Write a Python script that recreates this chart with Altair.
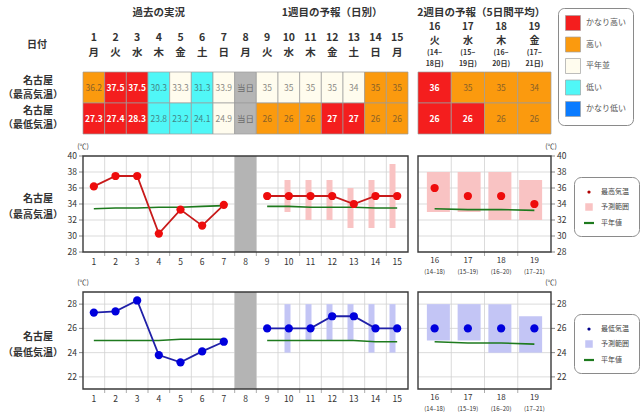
import altair as alt
import pandas as pd

FONT = "Noto Sans CJK JP"

# ---------------- data ----------------
CATS = ["かなり高い", "高い", "平年並", "低い", "かなり低い", "当日"]
CAT_COLORS = ["#f41e1e", "#fb9a0e", "#fffcee", "#50f7f7", "#0a7bff", "#b5b5b5"]
LEGEND_CATS = ["かなり高い", "高い", "平年並", "低い", "かなり低い"]
ROWS = ["最高気温", "最低気温"]

days_w1 = list(range(1, 16))
weekday_w1 = ["月", "火", "水", "木", "金", "土", "日", "月", "火", "水", "木", "金", "土", "日", "月"]
max_w1_text = ["36.2", "37.5", "37.5", "30.3", "33.3", "31.3", "33.9", "当日", "35", "35", "35", "35", "34", "35", "35"]
max_w1_cat = ["高い", "かなり高い", "かなり高い", "低い", "平年並", "低い", "平年並", "当日",
              "平年並", "平年並", "平年並", "平年並", "平年並", "高い", "高い"]
min_w1_text = ["27.3", "27.4", "28.3", "23.8", "23.2", "24.1", "24.9", "当日", "26", "26", "26", "27", "27", "26", "26"]
min_w1_cat = ["かなり高い", "かなり高い", "かなり高い", "低い", "低い", "低い", "平年並", "当日",
              "高い", "高い", "高い", "かなり高い", "かなり高い", "高い", "高い"]

days_w2 = [16, 17, 18, 19]
weekday_w2 = ["火", "水", "木", "金"]
period_top = ["(14~", "(15~", "(16~", "(17~"]
period_bottom = ["18日)", "19日)", "20日)", "21日)"]
period_axis = ["(14–18)", "(15–19)", "(16–20)", "(17–21)"]
max_w2_text = ["36", "35", "35", "34"]
max_w2_cat = ["かなり高い", "高い", "高い", "高い"]
min_w2_text = ["26", "26", "26", "26"]
min_w2_cat = ["かなり高い", "かなり高い", "高い", "高い"]

obs_days = [1, 2, 3, 4, 5, 6, 7]
max_obs = [36.2, 37.5, 37.5, 30.3, 33.3, 31.3, 33.9]
min_obs = [27.3, 27.4, 28.3, 23.8, 23.2, 24.1, 24.9]
max_obs_normal = [33.4, 33.5, 33.5, 33.6, 33.6, 33.7, 33.8]
min_obs_normal = [25.0, 25.0, 25.0, 25.0, 25.1, 25.1, 25.1]

fc_days = [9, 10, 11, 12, 13, 14, 15]
max_fc = [35, 35, 35, 35, 34, 35, 35]
max_fc_low = [None, 33, 32, 32, 31, 31, 31]
max_fc_high = [None, 37, 37, 37, 36, 37, 39]
max_fc_normal = [33.7, 33.7, 33.6, 33.6, 33.6, 33.5, 33.5]
min_fc = [26, 26, 26, 27, 27, 26, 26]
min_fc_low = [None, 24, 25, 25, 25, 24, 24]
min_fc_high = [None, 28, 28, 28, 28, 28, 28]
min_fc_normal = [25.0, 25.0, 25.0, 25.0, 25.0, 24.9, 24.9]

max_w2 = [36, 35, 35, 34]
max_w2_low = [33, 33, 32, 32]
max_w2_high = [38, 38, 38, 37]
max_w2_normal = [33.4, 33.3, 33.3, 33.2]
min_w2 = [26, 26, 26, 26]
min_w2_low = [25, 25, 24, 24]
min_w2_high = [28, 28, 28, 27]
min_w2_normal = [24.9, 24.8, 24.8, 24.7]

today_day = [8]
max_ticks = [28, 30, 32, 34, 36, 38, 40]
min_ticks = [22, 24, 26, 28]
max_grid = [30, 32, 34, 36, 38]
min_grid = [22, 24, 26, 28]
w1_bounds = [1.5, 2.5, 3.5, 4.5, 5.5, 6.5, 7.5, 8.5, 9.5, 10.5, 11.5, 12.5, 13.5, 14.5]
w2_bounds = [16.5, 17.5, 18.5]

MAX_LEGEND = ["最高気温", "予測範囲", "平年値"]
MIN_LEGEND = ["最低気温", "予測範囲", "平年値"]

# ---------------- styles ----------------
GRID = "#d2d2d2"
FRAME = "#3a3a3a"
TXT = "#333333"
RED_PT = "#ee0c0c"
RED_LN = "#c81a1a"
BLUE_PT = "#0000dd"
BLUE_LN = "#2020a8"
PINK = "#f9c3c3"
LAV = "#c3c5f5"
GREEN = "#1e7a1e"
LINE_PATH = "M-1,-0.22L1,-0.22L1,0.22L-1,0.22Z"
DOT_PATH = "M-0.32,0A0.32,0.32 0 1,0 0.32,0A0.32,0.32 0 1,0 -0.32,0Z"
SQ_PATH = "M-0.75,-0.75L0.75,-0.75L0.75,0.75L-0.75,0.75Z"

SX1 = alt.Scale(domain=[0.5, 15.5], range=[83, 408], nice=False, zero=False)
SX2 = alt.Scale(domain=[15.5, 19.5], range=[418, 551], nice=False, zero=False)
SY_MAX = alt.Scale(domain=[28, 40], range=[252, 156], nice=False, zero=False)
SY_MIN = alt.Scale(domain=[21, 29], range=[389, 292], nice=False, zero=False)
SY_TBL = alt.Scale(domain=ROWS, range=[72, 134], paddingInner=0, paddingOuter=0)
CAT_SCALE = alt.Scale(domain=CATS, range=CAT_COLORS)

L = []


def label(s, x, y, size=10, weight="bold", color=TXT, align="center"):
    return alt.Chart(pd.DataFrame({"t": [s]})).mark_text(
        fontSize=size, fontWeight=weight, color=color, align=align, font=FONT
    ).encode(x=alt.value(x), y=alt.value(y), text="t:N")


# ---------------- tables ----------------
def table_layers(days, max_text, max_cat, min_text, min_cat, sx, legend):
    df = pd.DataFrame({
        "d": days * 2,
        "row": [ROWS[0]] * len(days) + [ROWS[1]] * len(days),
        "txt": max_text + min_text,
        "cat": max_cat + min_cat,
    })
    out = []
    out.append(
        alt.Chart(df).transform_calculate(xa="datum.d - 0.5", xb="datum.d + 0.5")
        .mark_rect(stroke="#9c9c9c", strokeWidth=0.7)
        .encode(
            x=alt.X("xa:Q", scale=sx, axis=None), x2="xb:Q",
            y=alt.Y("row:N", scale=SY_TBL, axis=None),
            color=alt.Color("cat:N", scale=CAT_SCALE, legend=legend),
        )
    )
    out.append(
        alt.Chart(df).transform_filter(alt.datum.cat == "かなり高い")
        .mark_text(fontSize=8.5, fontWeight="bold", color="white", font=FONT)
        .encode(x=alt.X("d:Q", scale=sx, axis=None), y=alt.Y("row:N", scale=SY_TBL, axis=None), text="txt:N")
    )
    out.append(
        alt.Chart(df).transform_filter(alt.datum.cat != "かなり高い")
        .mark_text(fontSize=8.5, color="#3a3a3a", opacity=0.6, font=FONT)
        .encode(x=alt.X("d:Q", scale=sx, axis=None), y=alt.Y("row:N", scale=SY_TBL, axis=None), text="txt:N")
    )
    return out


table_legend = alt.Legend(
    title=None, orient="none", legendX=558, legendY=8, values=LEGEND_CATS,
    symbolType="square", symbolSize=225, symbolStrokeColor="#a0a0a0", symbolStrokeWidth=0.7,
    labelFont=FONT, labelFontSize=8, labelColor="#555", labelOffset=5, rowPadding=3.5,
    padding=7, strokeColor="#8a8a8a", cornerRadius=6, fillColor="white",
)
L += table_layers(days_w1, max_w1_text, max_w1_cat, min_w1_text, min_w1_cat, SX1, table_legend)
L += table_layers(days_w2, max_w2_text, max_w2_cat, min_w2_text, min_w2_cat, SX2, None)

# headers
hdr1 = pd.DataFrame({"d": days_w1, "wd": weekday_w1})
L.append(alt.Chart(hdr1).mark_text(fontSize=10.5, fontWeight="bold", color=TXT, font=FONT)
         .encode(x=alt.X("d:Q", scale=SX1, axis=None), y=alt.value(38), text="d:N"))
L.append(alt.Chart(hdr1).mark_text(fontSize=10.5, fontWeight="bold", color=TXT, font=FONT)
         .encode(x=alt.X("d:Q", scale=SX1, axis=None), y=alt.value(53), text="wd:N"))
hdr2 = pd.DataFrame({"d": days_w2, "wd": weekday_w2, "pa": period_top, "pb": period_bottom})
L.append(alt.Chart(hdr2).mark_text(fontSize=10, fontWeight="bold", color=TXT, font=FONT)
         .encode(x=alt.X("d:Q", scale=SX2, axis=None), y=alt.value(27), text="d:N"))
L.append(alt.Chart(hdr2).mark_text(fontSize=10, fontWeight="bold", color=TXT, font=FONT)
         .encode(x=alt.X("d:Q", scale=SX2, axis=None), y=alt.value(40.5), text="wd:N"))
L.append(alt.Chart(hdr2).mark_text(fontSize=7, fontWeight="bold", color=TXT, font=FONT)
         .encode(x=alt.X("d:Q", scale=SX2, axis=None), y=alt.value(53), text="pa:N"))
L.append(alt.Chart(hdr2).mark_text(fontSize=7, fontWeight="bold", color=TXT, font=FONT)
         .encode(x=alt.X("d:Q", scale=SX2, axis=None), y=alt.value(64), text="pb:N"))
titles1 = pd.DataFrame({"c": [4, 12], "t": ["過去の実況", "1週目の予報（日別）"]})
L.append(alt.Chart(titles1).mark_text(fontSize=10.5, fontWeight="bold", color=TXT, font=FONT)
         .encode(x=alt.X("c:Q", scale=SX1, axis=None), y=alt.value(13), text="t:N"))
titles2 = pd.DataFrame({"c": [17.4], "t": ["2週目の予報（5日間平均）"]})
L.append(alt.Chart(titles2).mark_text(fontSize=10.5, fontWeight="bold", color=TXT, font=FONT)
         .encode(x=alt.X("c:Q", scale=SX2, axis=None), y=alt.value(13), text="t:N"))

L.append(label("日付", 37, 45))
L.append(label("名古屋", 38, 81))
L.append(label("（最高気温）", 33, 95))
L.append(label("名古屋", 38, 111))
L.append(label("（最低気温）", 33, 125))
L.append(label("名古屋", 38, 199))
L.append(label("（最高気温）", 33, 215))
L.append(label("名古屋", 38, 337))
L.append(label("（最低気温）", 33, 353))


# ---------------- chart panels ----------------
def grid_layers(sx, sy, x0, x1, y0, y1, vgrid, hgrid):
    out = []
    out.append(alt.Chart(pd.DataFrame({"v": hgrid})).mark_rule(color=GRID, strokeWidth=0.8).encode(
        x=alt.XDatum(datum=x0, scale=sx, axis=None), x2=alt.X2Datum(datum=x1),
        y=alt.Y("v:Q", scale=sy, axis=None)))
    out.append(alt.Chart(pd.DataFrame({"g": vgrid})).mark_rule(color=GRID, strokeWidth=0.8).encode(
        x=alt.X("g:Q", scale=sx, axis=None),
        y=alt.YDatum(datum=y0, scale=sy, axis=None), y2=alt.Y2Datum(datum=y1)))
    out.append(alt.Chart(pd.DataFrame({"g": vgrid})).mark_tick(
        orient="vertical", size=4, thickness=1, yOffset=2, color="#888").encode(
        x=alt.X("g:Q", scale=sx, axis=None), y=alt.YDatum(datum=y0, scale=sy, axis=None)))
    return out


def frame_layer(sx, sy, x0, x1, y0, y1):
    return alt.Chart(pd.DataFrame({"k": [0]})).mark_rect(
        fillOpacity=0, stroke=FRAME, strokeWidth=1.4).encode(
        x=alt.XDatum(datum=x0, scale=sx, axis=None), x2=alt.X2Datum(datum=x1),
        y=alt.YDatum(datum=y0, scale=sy, axis=None), y2=alt.Y2Datum(datum=y1))


def today_band(sx, sy, y0, y1):
    return alt.Chart(pd.DataFrame({"d": today_day})).transform_calculate(
        xa="datum.d - 0.5", xb="datum.d + 0.5").mark_rect(color="#b4b4b4").encode(
        x=alt.X("xa:Q", scale=sx, axis=None), x2="xb:Q",
        y=alt.YDatum(datum=y0, scale=sy, axis=None), y2=alt.Y2Datum(datum=y1))


def y_axis(sx, sy, xpos, ticks, side):
    df = pd.DataFrame({"v": ticks})
    out = []
    sgn = -1 if side == "left" else 1
    out.append(alt.Chart(df).mark_tick(orient="horizontal", size=4, thickness=1, xOffset=2 * sgn, color="#555")
               .encode(x=alt.XDatum(datum=xpos, scale=sx, axis=None), y=alt.Y("v:Q", scale=sy, axis=None)))
    out.append(alt.Chart(df).mark_text(fontSize=8.5, color=TXT, font=FONT,
                                       align="right" if side == "left" else "left", dx=6 * sgn)
               .encode(x=alt.XDatum(datum=xpos, scale=sx, axis=None), y=alt.Y("v:Q", scale=sy, axis=None),
                       text="v:N"))
    return out


def unit_label(sx, sy, xpos, ytop):
    return alt.Chart(pd.DataFrame({"t": ["(℃)"]})).mark_text(fontSize=7, color=TXT, font=FONT, dy=-9).encode(
        x=alt.XDatum(datum=xpos, scale=sx, axis=None), y=alt.YDatum(datum=ytop, scale=sy, axis=None), text="t:N")


def x_labels(days, sx, sy, y0, extra=None):
    df = pd.DataFrame({"d": days})
    main_dy = 10 if extra is None else 9
    out = [alt.Chart(df).mark_text(fontSize=8.5 if extra is None else 8, color=TXT, font=FONT, dy=main_dy).encode(
        x=alt.X("d:Q", scale=sx, axis=None), y=alt.YDatum(datum=y0, scale=sy, axis=None), text="d:N")]
    if extra is not None:
        df2 = pd.DataFrame({"d": days, "p": extra})
        out.append(alt.Chart(df2).mark_text(fontSize=6, color=TXT, font=FONT, dy=20).encode(
            x=alt.X("d:Q", scale=sx, axis=None), y=alt.YDatum(datum=y0, scale=sy, axis=None), text="p:N"))
    return out


def series_layers(sy, obs, obs_norm, fc, fc_lo, fc_hi, fc_norm, w2, w2_lo, w2_hi, w2_norm,
                  pt_col, ln_col, rng_col):
    out = []
    rng = pd.DataFrame({"d": fc_days, "lo": fc_lo, "hi": fc_hi})
    out.append(alt.Chart(rng).transform_filter("isValid(datum.lo)").mark_bar(size=6, color=rng_col).encode(
        x=alt.X("d:Q", scale=SX1, axis=None), y=alt.Y("lo:Q", scale=sy, axis=None), y2="hi:Q"))
    rng2 = pd.DataFrame({"d": days_w2, "lo": w2_lo, "hi": w2_hi})
    out.append(alt.Chart(rng2).mark_bar(size=23, color=rng_col).encode(
        x=alt.X("d:Q", scale=SX2, axis=None), y=alt.Y("lo:Q", scale=sy, axis=None), y2="hi:Q"))
    nrm = pd.DataFrame({"d": obs_days + fc_days, "v": obs_norm + fc_norm,
                        "seg": ["obs"] * len(obs_days) + ["fc"] * len(fc_days)})
    out.append(alt.Chart(nrm).mark_line(color=GREEN, strokeWidth=1.6).encode(
        x=alt.X("d:Q", scale=SX1, axis=None), y=alt.Y("v:Q", scale=sy, axis=None), detail="seg:N"))
    nrm2 = pd.DataFrame({"d": days_w2, "v": w2_norm})
    out.append(alt.Chart(nrm2).mark_line(color=GREEN, strokeWidth=1.6).encode(
        x=alt.X("d:Q", scale=SX2, axis=None), y=alt.Y("v:Q", scale=sy, axis=None)))
    ob = pd.DataFrame({"d": obs_days, "v": obs})
    fcd = pd.DataFrame({"d": fc_days, "v": fc})
    for df in (ob, fcd):
        out.append(alt.Chart(df).mark_line(color=ln_col, strokeWidth=1.8).encode(
            x=alt.X("d:Q", scale=SX1, axis=None), y=alt.Y("v:Q", scale=sy, axis=None)))
        out.append(alt.Chart(df).mark_circle(size=68, color=pt_col, opacity=1).encode(
            x=alt.X("d:Q", scale=SX1, axis=None), y=alt.Y("v:Q", scale=sy, axis=None)))
    w2d = pd.DataFrame({"d": days_w2, "v": w2})
    out.append(alt.Chart(w2d).mark_circle(size=68, color=pt_col, opacity=1).encode(
        x=alt.X("d:Q", scale=SX2, axis=None), y=alt.Y("v:Q", scale=sy, axis=None)))
    return out


def chart_legend(items, colors, lx, ly):
    leg = alt.Legend(
        title=None, orient="none", legendX=lx, legendY=ly, padding=10, strokeColor="#8a8a8a",
        cornerRadius=7, fillColor="white", labelFont=FONT, labelFontSize=7, labelColor="#444",
        rowPadding=7, labelOffset=7, symbolSize=100, symbolStrokeWidth=0,
    )
    df = pd.DataFrame({"item": items})
    return alt.Chart(df).transform_filter("false").mark_point(filled=True, opacity=1, size=100).encode(
        color=alt.Color("item:N", scale=alt.Scale(domain=items, range=colors), legend=leg),
        shape=alt.Shape("item:N", scale=alt.Scale(domain=items, range=[DOT_PATH, SQ_PATH, LINE_PATH]), legend=leg),
    )


for (sy, y0, y1, ticks, hgrid, obs, obs_norm, fc, fc_lo, fc_hi, fc_norm,
     w2, w2_lo, w2_hi, w2_norm, pt_col, ln_col, rng_col, leg_items, leg_dot, leg_y) in [
    (SY_MAX, 28, 40, max_ticks, max_grid, max_obs, max_obs_normal, max_fc, max_fc_low, max_fc_high,
     max_fc_normal, max_w2, max_w2_low, max_w2_high, max_w2_normal, RED_PT, RED_LN, PINK,
     MAX_LEGEND, "#b00000", 177),
    (SY_MIN, 21, 29, min_ticks, min_grid, min_obs, min_obs_normal, min_fc, min_fc_low, min_fc_high,
     min_fc_normal, min_w2, min_w2_low, min_w2_high, min_w2_normal, BLUE_PT, BLUE_LN, LAV,
     MIN_LEGEND, "#00008b", 314),
]:
    L += grid_layers(SX1, sy, 0.5, 15.5, y0, y1, w1_bounds, hgrid)
    L += grid_layers(SX2, sy, 15.5, 19.5, y0, y1, w2_bounds, hgrid)
    L.append(today_band(SX1, sy, y0, y1))
    L += y_axis(SX1, sy, 0.5, ticks, "left")
    L += y_axis(SX2, sy, 19.5, ticks, "right")
    L.append(unit_label(SX1, sy, 0.5, y1))
    L.append(unit_label(SX2, sy, 19.5, y1))
    L += x_labels(days_w1, SX1, sy, y0)
    L += x_labels(days_w2, SX2, sy, y0, period_axis)
    L += series_layers(sy, obs, obs_norm, fc, fc_lo, fc_hi, fc_norm, w2, w2_lo, w2_hi, w2_norm,
                       pt_col, ln_col, rng_col)
    L.append(frame_layer(SX1, sy, 0.5, 15.5, y0, y1))
    L.append(frame_layer(SX2, sy, 15.5, 19.5, y0, y1))
    L.append(chart_legend(leg_items, [leg_dot, rng_col, GREEN], 574, leg_y))

chart = (
    alt.layer(*L)
    .properties(width=640, height=415, padding=0, background="white",
                autosize=alt.AutoSizeParams(type="none"))
    .resolve_scale(x="independent", y="independent", color="independent", shape="independent")
    .configure(font=FONT)
    .configure_view(strokeWidth=0)
)

chart.save("out.html", embed_options={"renderer": "svg", "actions": False})
